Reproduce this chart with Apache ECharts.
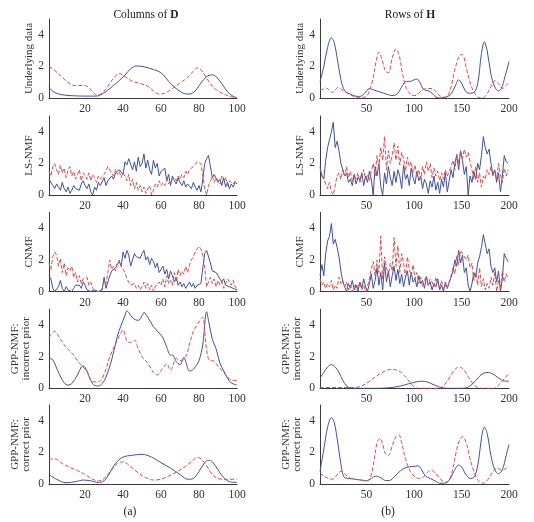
<!DOCTYPE html>
<html><head><meta charset="utf-8">
<script src="https://cdn.jsdelivr.net/npm/echarts@6/dist/echarts.min.js"></script>
<style>html,body{margin:0;padding:0;background:#fff}#c{width:534px;height:522px}</style>
</head><body><div id="c"></div>
<script>
// ---------- tick labels / names ----------
const rowNames = ['Underlying data', 'LS-NMF', 'CNMF', 'GPP-NMF:\nincorrect prior', 'GPP-NMF:\ncorrect prior'];
const leftTicks = [20, 40, 60, 80, 100];
const rightTicks = [50, 100, 150, 200];
const yTicks = [0, 2, 4];
const panelLabels = ['(a)', '(b)'];

// ---------- Columns of D (x = 1..100) ----------
const dTrueBlue = [[1,0.65],[4,0.35],[8,0.2],[14,0.14],[20,0.12],[26,0.12],[29,0.25],[32,0.5],[35,0.8],[38,1.1],[41,1.45],[44,1.85],[47,2.03],[50,2.0],[54,1.88],[58,1.72],[61,1.5],[64,1.05],[67,0.7],[70,0.42],[73,0.26],[75,0.25],[78,0.45],[81,0.95],[84,1.35],[87,1.46],[89,1.35],[92,0.9],[95,0.4],[98,0.1],[100,0.02]];
const dTrueRed = [[1,2.0],[4,1.75],[8,1.3],[12,0.9],[15,0.78],[19,0.8],[21,0.75],[24,0.4],[26,0.18],[29,0.3],[32,0.75],[35,1.25],[38,1.55],[41,1.35],[45,1.05],[49,0.92],[53,0.75],[56,0.45],[59,0.25],[62,0.3],[66,0.6],[70,0.95],[74,1.3],[77,1.7],[79,1.9],[81,1.8],[84,1.25],[87,0.75],[90,0.45],[94,0.2],[97,0.08],[100,0.03]];

const dLsBlue = [1.0,0.9,0.6,0.4,0.7,0.5,0.3,0.8,0.4,0.2, 0.5,0.1,0.3,0.6,0.4,0.5,0.3,0.7,0.9,0.6, 0.4,0.7,0.2,0.0,0.5,0.3,0.8,0.6,0.5,1.1, 0.6,0.9,0.8,1.2,1.0,1.4,1.3,1.6,1.5,1.3, 2.1,1.9,2.3,2.2,1.6,2.1,1.5,2.4,1.8,2.0, 2.6,1.7,2.2,1.6,1.3,2.2,1.7,2.0,1.2,1.5, 1.4,1.7,0.9,1.3,0.6,1.2,0.9,0.7,1.1,0.8, 0.6,0.9,0.5,0.7,0.6,0.4,0.8,0.5,0.3,0.6, 0.2,1.0,2.0,2.3,2.5,1.8,1.1,1.3,1.2,0.8, 1.0,0.6,1.1,0.5,0.8,0.4,0.7,0.5,0.8,0.7];
const dLsRed = [1.5,1.2,1.8,2.0,1.6,1.3,1.9,1.4,1.7,1.1, 1.6,1.8,1.2,1.5,1.0,1.3,1.6,0.9,1.4,1.2, 1.0,1.4,0.9,1.3,1.1,0.8,1.2,1.0,1.1,1.3, 1.5,1.8,1.9,1.4,1.2,1.6,1.3,1.5,1.1,1.4, 1.2,0.9,1.3,0.6,1.0,0.4,0.8,0.3,0.6,0.2, 0.5,0.1,0.4,0.6,0.0,0.3,0.7,0.5,0.9,0.6, 0.8,0.6,1.0,0.7,0.9,0.8,1.1,0.9,1.2,1.0, 1.3,1.1,1.5,1.3,1.6,1.5,1.8,1.9,2.1,2.2, 2.0,1.2,0.4,0.0,0.6,0.9,1.2,0.8,1.1,0.9, 0.7,1.2,0.9,1.1,0.6,0.9,1.0,0.7,0.9,0.8];

const dCnBlue = [1.0,0.8,0.2,0.0,0.1,0.3,0.7,0.2,0.0,0.3, 0.1,0.0,0.0,0.2,0.4,0.3,0.4,0.2,0.6,0.4, 0.1,0.0,0.0,0.0,0.1,0.0,0.0,0.0,0.1,0.9, 0.2,0.6,1.0,1.3,1.2,1.5,1.7,1.9,1.6,2.5, 2.1,2.6,2.3,1.6,2.0,2.4,2.2,2.3,2.1,2.4, 2.6,2.0,2.2,1.7,2.1,1.9,1.5,1.8,1.2,1.3, 1.6,1.1,1.4,0.8,1.3,1.0,0.6,0.9,0.4,0.6, 0.3,0.5,0.2,0.4,0.6,0.3,0.5,0.2,0.4,0.3, 0.5,1.5,2.4,2.6,2.6,1.8,1.3,1.3,1.2,1.0, 0.9,0.6,0.8,0.4,0.5,0.3,0.4,0.2,0.2,0.1];
const dCnRed = [1.8,1.4,2.2,2.5,2.3,1.6,2.1,1.2,1.8,1.0, 1.5,1.3,1.6,0.9,1.2,0.6,1.0,0.5,0.8,0.7, 0.9,0.4,0.6,0.2,0.3,0.0,0.1,0.0,0.2,0.7, 0.5,1.2,2.0,1.4,1.6,1.3,1.8,2.0,1.6,1.5, 1.2,0.8,0.6,0.4,0.3,0.5,0.2,0.4,0.1,0.3, 0.6,0.2,0.5,0.1,0.4,0.0,0.3,0.2,0.6,0.4, 0.8,0.3,1.0,0.5,0.7,0.4,1.2,0.6,1.4,1.0, 1.3,1.1,1.6,1.2,1.7,2.0,2.2,2.5,2.7,2.85, 2.7,2.3,1.5,0.3,0.6,0.9,0.5,0.8,0.3,0.7, 0.4,0.6,0.2,0.5,0.8,0.6,0.4,0.7,0.3,0.2];

const dIncBlue = [[1,1.9],[3,1.8],[6,1.0],[9,0.35],[11,0.2],[13,0.3],[16,0.85],[18,1.35],[19,1.42],[21,1.1],[23,0.5],[25,0.18],[27,0.15],[29,0.3],[31,0.7],[34,1.8],[37,3.3],[39,4.0],[41,4.6],[42,4.9],[43,4.8],[45,4.45],[48,4.3],[50,4.6],[51,4.8],[53,4.5],[56,3.9],[59,3.5],[61,3.2],[63,2.6],[65,2.1],[66,2.1],[68,1.7],[70,1.5],[72,1.95],[73,1.7],[75,1.1],[77,1.2],[80,1.75],[82,2.8],[84,4.85],[85,4.3],[87,3.1],[89,2.5],[91,1.6],[93,1.1],[96,0.45],[98,0.28],[100,0.2]];
const dIncRed = [[1,3.2],[4,3.6],[7,3.1],[10,2.6],[14,2.1],[17,1.6],[21,1.05],[23,0.5],[26,0.4],[28,0.45],[31,1.2],[33,2.0],[36,2.8],[38,3.3],[40,3.7],[42,3.0],[44,2.9],[46,3.05],[48,2.5],[50,2.0],[53,1.6],[56,1.0],[58,0.85],[60,1.1],[63,1.55],[65,1.15],[68,1.9],[70,1.75],[73,2.0],[75,2.8],[77,3.6],[80,4.2],[82,4.5],[83,3.6],[85,1.85],[88,1.7],[90,1.4],[93,1.0],[96,0.6],[98,0.5],[100,0.5]];

const dCorBlue = [[1,0.6],[5,0.3],[10,0.08],[15,0.15],[19,0.25],[23,0.2],[27,0.1],[30,0.2],[33,0.7],[36,1.3],[40,1.7],[45,1.82],[50,1.88],[55,1.7],[60,1.35],[65,1.0],[70,0.6],[74,0.3],[77,0.35],[80,0.8],[83,1.35],[85,1.5],[87,1.4],[90,0.9],[93,0.4],[96,0.15],[100,0.1]];
const dCorRed = [[1,1.55],[4,1.6],[8,1.3],[12,1.05],[16,0.85],[20,0.6],[24,0.3],[27,0.2],[30,0.35],[34,0.9],[37,1.3],[40,1.4],[44,1.1],[48,0.7],[52,0.4],[56,0.25],[60,0.3],[64,0.5],[68,0.75],[72,1.05],[76,1.4],[79,1.68],[81,1.6],[84,1.15],[87,0.6],[90,0.35],[94,0.3],[100,0.3]];

// ---------- Rows of H (x = 1..200) ----------
const hTrueBlue = [[1,1.0],[5,2.0],[9,3.2],[13,3.8],[16,3.5],[20,2.2],[24,0.9],[28,0.4],[33,0.25],[38,0.12],[43,0.1],[48,0.3],[53,0.6],[58,0.5],[63,0.4],[68,0.3],[73,0.2],[78,0.15],[83,0.3],[88,0.8],[92,1.05],[96,1.05],[100,1.15],[103,1.2],[106,1.0],[110,0.55],[115,0.45],[119,0.3],[123,0.05],[128,0.0],[133,0.05],[138,0.2],[143,0.7],[147,1.15],[150,0.95],[154,0.45],[158,0.3],[163,0.35],[167,0.9],[171,2.8],[174,3.55],[177,3.0],[181,1.5],[185,0.7],[189,0.45],[192,0.6],[196,1.4],[200,2.3]];
const hTrueRed = [[1,0.5],[8,0.6],[14,0.35],[20,0.65],[27,0.4],[33,0.2],[40,0.05],[48,0.05],[55,0.8],[60,2.3],[63,2.9],[66,2.5],[70,1.7],[73,1.6],[77,2.5],[81,3.1],[84,2.8],[88,1.5],[92,0.6],[97,0.2],[101,0.15],[105,0.3],[110,0.55],[115,0.6],[119,0.6],[123,0.4],[128,0.1],[133,0.05],[138,0.5],[143,1.8],[148,2.7],[151,2.75],[155,1.9],[160,0.8],[165,0.2],[170,0.0],[175,0.1],[180,0.6],[185,1.1],[189,0.9],[193,0.6],[197,0.8],[200,1.0]];

const hLsBlue = [1.8,1.2,1.0,2.2,3.0,3.5,4.0,4.6,3.0,3.4, 2.8,2.0,1.6,1.2,1.4,0.8,1.0,0.6,1.3,0.7, 1.1,0.9,1.4,0.6,1.2,0.8,1.5,1.0,0.0,1.8, 1.2,2.0,0.5,0.0,1.4,0.7,1.8,1.1,0.6,1.5, 0.8,1.6,1.2,0.4,1.9,1.0,1.3,0.6,1.7,1.1, 0.7,1.5,0.9,1.2,0.4,1.0,0.7,0.1,0.9,0.5, 1.2,0.3,0.8,0.1,1.0,0.5,1.4,0.2,0.9,1.6, 1.1,2.0,2.5,1.6,2.8,2.2,1.3,1.8,0.0,1.2, 0.8,1.5,1.0,2.0,1.6,2.5,3.7,3.0,2.6,2.9, 2.0,1.3,1.6,0.8,1.4,0.2,1.2,2.5,2.1,2.0];
const hLsRed = [1.6,1.3,1.0,0.7,0.4,0.8,0.2,0.0,0.6,1.2, 1.4,1.0,1.6,1.2,1.8,1.1,1.5,0.9,1.3,1.0, 1.4,0.8,1.2,1.6,1.0,1.3,0.9,1.5,2.0,1.2, 2.5,1.8,3.0,2.2,3.7,1.6,2.8,2.0,2.5,3.3, 2.2,3.1,1.9,2.7,2.3,1.5,2.4,1.8,2.1,1.4, 1.9,1.2,1.6,1.0,1.8,1.3,2.1,1.5,2.0,1.1, 1.7,1.2,1.5,0.9,1.4,1.0,1.6,1.2,1.3,1.8, 2.2,1.6,2.6,2.0,2.8,2.3,2.9,2.4,2.7,2.1, 1.6,1.0,1.8,0.8,1.4,0.5,1.2,1.0,1.6,1.3, 1.8,1.2,1.5,1.0,2.0,1.3,0.8,1.7,1.2,1.6];

const hCnBlue = [1.0,1.7,1.0,2.4,3.2,3.5,4.3,3.0,3.3,2.8, 2.2,1.3,0.6,0.3,0.0,0.5,0.2,0.7,0.1,0.4, 0.0,0.6,0.2,0.8,0.3,0.0,0.5,1.1,0.2,0.7, 1.5,0.4,1.2,0.1,1.8,0.6,1.3,0.3,1.0,1.6, 0.7,1.4,0.5,1.1,0.3,0.9,1.3,0.4,1.2,0.6, 0.8,0.3,1.0,0.5,0.7,0.2,0.9,0.4,0.6,0.1, 0.5,0.3,0.8,0.1,0.4,0.0,0.6,0.2,0.3,0.9, 1.3,2.0,1.6,2.6,1.8,2.3,1.2,1.5,0.4,0.0, 0.5,1.2,0.9,1.8,2.2,2.8,3.6,3.0,2.4,2.7, 1.6,1.2,1.5,0.6,1.3,0.0,0.8,2.4,2.1,1.9];
const hCnRed = [0.8,0.4,0.6,0.2,0.5,0.3,0.7,0.1,0.4,0.2, 0.9,0.5,0.7,0.3,0.6,0.1,0.4,0.0,0.3,0.5, 0.2,0.6,0.1,0.4,0.0,0.3,0.8,1.4,1.9,1.0, 2.0,1.2,3.5,0.8,2.2,1.5,1.0,1.8,1.3,3.4, 1.6,2.9,1.2,2.4,1.8,0.9,2.2,1.4,1.0,1.7, 0.8,1.2,0.5,0.9,0.3,0.7,1.0,0.4,0.8,0.6, 0.3,0.9,0.5,0.2,0.7,0.1,0.4,0.2,0.6,1.0, 1.5,1.1,2.3,1.7,2.6,2.4,2.5,2.0,2.3,1.5, 1.8,0.7,1.2,0.4,1.5,0.3,0.8,0.1,0.5,0.2, 0.9,0.4,1.2,0.0,0.7,0.2,1.3,0.6,1.1,0.8];

const hIncBlue = [[1,0.65],[5,1.0],[9,1.35],[13,1.5],[17,1.35],[21,1.0],[25,0.5],[29,0.15],[33,0.02],[38,0.0],[50,0.0],[62,0.0],[70,0.02],[78,0.06],[86,0.15],[94,0.28],[102,0.4],[108,0.45],[114,0.4],[120,0.25],[126,0.1],[131,0.02],[136,0.0],[150,0.0],[156,0.05],[162,0.3],[168,0.7],[173,0.95],[178,1.0],[183,0.9],[188,0.7],[193,0.5],[197,0.45],[200,0.45]];
const hIncRed = [[1,0.05],[20,0.05],[38,0.05],[45,0.15],[52,0.4],[60,0.75],[68,1.05],[76,1.2],[84,1.1],[90,0.8],[96,0.35],[101,0.05],[106,0.0],[125,0.0],[130,0.1],[135,0.45],[140,0.95],[145,1.3],[148,1.35],[152,1.2],[157,0.75],[162,0.3],[167,0.05],[172,0.0],[184,0.0],[190,0.25],[195,0.6],[200,0.95]];

const hCorBlue = [[1,0.8],[5,2.2],[9,3.6],[13,4.2],[16,3.9],[20,2.5],[24,0.9],[27,0.4],[32,0.35],[38,0.3],[44,0.25],[50,0.2],[55,0.35],[60,0.5],[65,0.4],[70,0.22],[74,0.22],[80,0.5],[86,0.85],[92,1.05],[98,1.1],[104,1.15],[108,0.9],[112,0.5],[117,0.35],[122,0.2],[127,0.05],[132,0.05],[137,0.25],[142,0.8],[147,1.2],[151,1.0],[155,0.55],[160,0.35],[164,0.5],[168,1.5],[171,2.9],[174,3.6],[177,3.2],[181,1.8],[185,0.9],[189,0.65],[193,0.9],[197,1.8],[200,2.5]];
const hCorRed = [[1,0.7],[5,0.5],[10,0.35],[14,0.3],[18,0.5],[23,0.8],[27,0.65],[32,0.4],[38,0.3],[45,0.25],[50,0.2],[54,0.4],[58,1.5],[61,2.6],[64,2.9],[67,2.5],[70,1.9],[73,1.8],[77,2.4],[81,3.0],[84,3.1],[87,2.6],[91,1.6],[96,0.8],[101,0.45],[106,0.35],[111,0.5],[115,0.8],[119,0.85],[123,0.65],[128,0.3],[133,0.12],[137,0.25],[141,1.0],[145,2.2],[148,2.8],[151,3.0],[155,2.6],[159,1.6],[163,0.8],[168,0.2],[173,0.05],[178,0.3],[183,0.8],[188,1.0],[193,0.85],[197,1.0],[200,1.1]];

// ---------- layout ----------
const FONT = '"Liberation Serif","Times New Roman",serif';
const BLUE = '#3d52a3';
const RED = '#e24a4a';
const AXIS = '#3a3a3a';
const rowTops = [19, 116, 212.5, 309.3, 405];
const rowH = 79;
const cols = [
  {left: 49, width: 188, max: 100, ticks: leftTicks},
  {left: 320, width: 189, max: 200, ticks: rightTicks}
];

const idx = (arr, step) => arr.map((v, i) => [1 + i * step, v]);

const panels = [
  [[dTrueBlue, dTrueRed, true], [hTrueBlue, hTrueRed, true]],
  [[idx(dLsBlue, 1), idx(dLsRed, 1), false], [idx(hLsBlue, 2), idx(hLsRed, 2), false]],
  [[idx(dCnBlue, 1), idx(dCnRed, 1), false], [idx(hCnBlue, 2), idx(hCnRed, 2), false]],
  [[dIncBlue, dIncRed, true], [hIncBlue, hIncRed, true]],
  [[dCorBlue, dCorRed, true], [hCorBlue, hCorRed, true]]
];

const grid = [], xAxis = [], yAxis = [], series = [];
let g = 0;
for (let r = 0; r < 5; r++) {
  for (let c = 0; c < 2; c++) {
    const col = cols[c];
    grid.push({left: col.left, top: rowTops[r], width: col.width, height: rowH});
    xAxis.push({
      type: 'value', gridIndex: g, min: 1, max: col.max,
      axisLine: {show: true, onZero: false, lineStyle: {color: AXIS, width: 1}},
      axisTick: {show: false},
      splitLine: {show: false},
      axisLabel: {customValues: col.ticks, color: '#333', fontFamily: FONT, fontSize: 11.5, margin: 5}
    });
    const twoLine = rowNames[r].indexOf('\n') >= 0;
    yAxis.push({
      type: 'value', gridIndex: g, min: 0, max: 5,
      name: rowNames[r], nameLocation: 'middle', nameRotate: 90,
      nameGap: twoLine ? 17 : 13,
      nameTextStyle: {color: '#333', fontFamily: FONT, fontSize: 11, lineHeight: 11},
      axisLine: {show: true, onZero: false, lineStyle: {color: AXIS, width: 1}},
      axisTick: {show: false},
      splitLine: {show: false},
      axisLabel: {customValues: yTicks, color: '#333', fontFamily: FONT, fontSize: 11.5, margin: 5}
    });
    const [b, rd, smooth] = panels[r][c];
    series.push({
      type: 'line', xAxisIndex: g, yAxisIndex: g, data: b, symbol: 'none',
      smooth: smooth ? 0.35 : false, clip: true,
      lineStyle: {color: BLUE, width: 1}
    });
    series.push({
      type: 'line', xAxisIndex: g, yAxisIndex: g, data: rd, symbol: 'none',
      smooth: smooth ? 0.35 : false, clip: true,
      lineStyle: {color: RED, width: 1, type: [4, 2]}
    });
    g++;
  }
}

const chart = echarts.init(document.getElementById('c'), null, {renderer: 'canvas'});
chart.setOption({
  animation: false,
  backgroundColor: '#fff',
  grid, xAxis, yAxis, series,
  graphic: [
    {type: 'text', x: 146, y: 15, style: {text: 'Columns of {b|D}', rich: {b: {fontWeight: 'bold', fontFamily: FONT, fontSize: 11.5, fill: '#222'}}, font: '11.5px ' + FONT, fill: '#222', textAlign: 'center', textVerticalAlign: 'middle'}},
    {type: 'text', x: 410, y: 15, style: {text: 'Rows of {b|H}', rich: {b: {fontWeight: 'bold', fontFamily: FONT, fontSize: 11.5, fill: '#222'}}, font: '11.5px ' + FONT, fill: '#222', textAlign: 'center', textVerticalAlign: 'middle'}},
    {type: 'text', x: 130, y: 512, style: {text: panelLabels[0], font: '11.5px ' + FONT, fill: '#222', textAlign: 'center', textVerticalAlign: 'middle'}},
    {type: 'text', x: 388, y: 512, style: {text: panelLabels[1], font: '11.5px ' + FONT, fill: '#222', textAlign: 'center', textVerticalAlign: 'middle'}}
  ]
});
</script></body></html>
